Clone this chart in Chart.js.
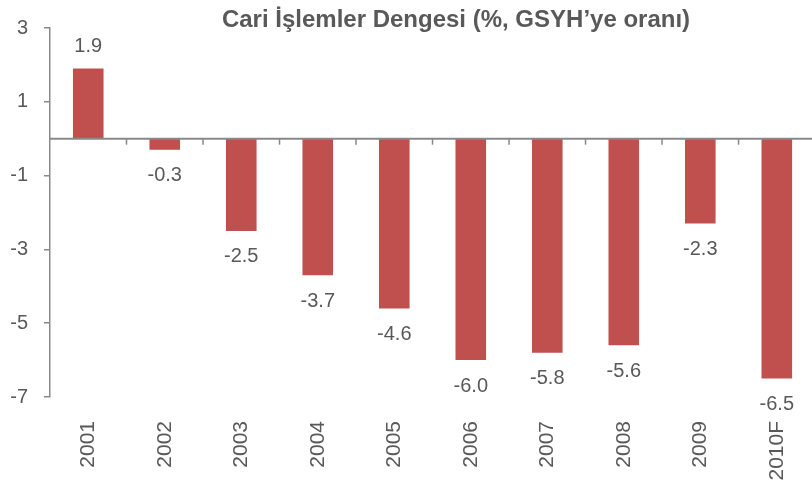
<!DOCTYPE html>
<html>
<head>
<meta charset="utf-8">
<script src="https://cdn.jsdelivr.net/npm/chart.js@4.4.0/dist/chart.umd.min.js"></script>
<style>
  html, body { margin: 0; padding: 0; background: #fff; overflow: hidden; }
  .wrap { width: 826px; height: 482px; position: relative; }
</style>
</head>
<body>
<div class="wrap"><canvas id="cariChart"></canvas></div>
<script>
const years = ['2001', '2002', '2003', '2004', '2005', '2006', '2007', '2008', '2009', '2010F']
const cariDenge = [1.9, -0.3, -2.5, -3.7, -4.6, -6.0, -5.8, -5.6, -2.3, -6.5]
const yTicks = [3, 1, -1, -3, -5, -7]
const titre = 'Cari İşlemler Dengesi (%, GSYH’ye oranı)'

const gris = '#595959'
const axe = '#898989'
const police = 'Liberation Sans, Arial, sans-serif'

//    ------- titre, ligne zéro, petits traits et étiquettes ----------
const decor = {
  id: 'decor',
  afterDatasetsDraw(chart) {
    const { ctx, chartArea, scales } = chart
    const x = scales.x, y = scales.y
    const y0 = y.getPixelForValue(0)

    ctx.save()
    ctx.strokeStyle = axe
    ctx.lineWidth = 2
    ctx.beginPath()
    ctx.moveTo(chartArea.left, y0)
    ctx.lineTo(chartArea.right, y0)
    ctx.stroke()

    ctx.lineWidth = 1.5
    for (let i = 1; i < years.length; i++) {
      const xb = (x.getPixelForValue(i - 1) + x.getPixelForValue(i)) / 2
      ctx.beginPath()
      ctx.moveTo(xb, y0)
      ctx.lineTo(xb, y0 + 6)
      ctx.stroke()
    }

    ctx.fillStyle = gris
    ctx.font = '20px ' + police
    ctx.textAlign = 'center'
    ctx.textBaseline = 'middle'
    chart.getDatasetMeta(0).data.forEach((bar, i) => {
      const v = cariDenge[i]
      const ty = v >= 0 ? bar.y - 22 : bar.y + 26
      ctx.fillText(v.toFixed(1), bar.x, ty)
    })

    ctx.font = 'bold 24px ' + police
    ctx.textBaseline = 'alphabetic'
    ctx.fillText(titre, 456, 27)
    ctx.restore()
  }
}

const ctx = document.getElementById('cariChart').getContext('2d')
const chart = new Chart(ctx, {
  type: 'bar',
  data: {
    labels: years,
    datasets: [{
      data: cariDenge,
      backgroundColor: '#C0504D',
      borderWidth: 0,
      barPercentage: 0.4,
      categoryPercentage: 1
    }]
  },
  options: {
    responsive: true,
    maintainAspectRatio: false,
    animation: false,
    layout: { padding: { top: 28, left: 0, right: 0, bottom: 0 } },
    plugins: {
      legend: { display: false },
      tooltip: { enabled: false }
    },
    scales: {
      x: {
        grid: { display: false, drawTicks: false },
        border: { display: false },
        ticks: {
          color: gris,
          font: { family: police, size: 21 },
          minRotation: 90,
          maxRotation: 90,
          padding: 24,
          autoSkip: false
        },
        afterFit: s => { s.height = 85 }
      },
      y: {
        min: -7,
        max: 3,
        afterBuildTicks: s => { s.ticks = yTicks.map(v => ({ value: v })) },
        grid: { drawOnChartArea: false, drawTicks: true, tickLength: 6, tickColor: axe, lineWidth: 1.5 },
        border: { display: true, color: axe, width: 1.5 },
        ticks: {
          color: gris,
          font: { family: police, size: 20 },
          padding: 16
        },
        afterFit: s => { s.width = 50 }
      }
    }
  },
  plugins: [decor]
})
</script>
</body>
</html>
